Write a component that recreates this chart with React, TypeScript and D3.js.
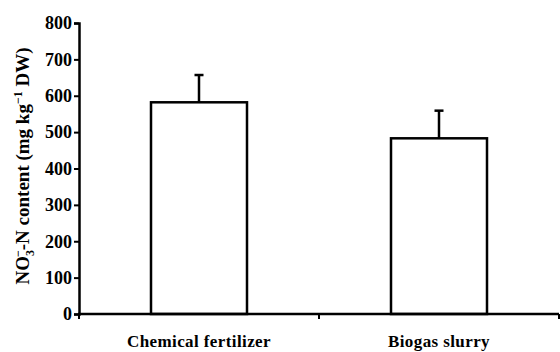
import React, { useRef, useEffect } from "react";
import * as d3 from "d3";

const width = 560;
const height = 352;

const categories = ["Chemical fertilizer", "Biogas slurry"];
const means = [582, 483];
const errors = [75, 76];
const yTicks = [0, 100, 200, 300, 400, 500, 600, 700, 800];

const font = "Liberation Serif, Times New Roman, serif";

function App() {
  const svgRef = useRef<SVGSVGElement>(null);

  useEffect(() => {
    const svg = d3.select(svgRef.current);
    svg.selectAll("*").remove();

    const x0 = 79;
    const x1 = 559;
    const yTop = 23;
    const yBottom = 314;

    // scales
    const xScale = d3
      .scaleBand<string>()
      .domain(categories)
      .range([x0, x1])
      .paddingInner(0.6)
      .paddingOuter(0.3);
    const yScale = d3.scaleLinear().domain([0, 800]).range([yBottom, yTop]);

    // bars
    svg
      .selectAll(".bar")
      .data(categories)
      .join("rect")
      .attr("class", "bar")
      .attr("x", (d) => xScale(d)!)
      .attr("y", (d, i) => yScale(means[i]))
      .attr("width", xScale.bandwidth())
      .attr("height", (d, i) => yBottom - yScale(means[i]))
      .attr("fill", "#fff")
      .attr("stroke", "#000")
      .attr("stroke-width", 2.5);

    // error bars (upper only)
    const cx = (d: string) => xScale(d)! + xScale.bandwidth() / 2;
    svg
      .selectAll(".err")
      .data(categories)
      .join("line")
      .attr("class", "err")
      .attr("x1", cx)
      .attr("x2", cx)
      .attr("y1", (d, i) => yScale(means[i]))
      .attr("y2", (d, i) => yScale(means[i] + errors[i]))
      .attr("stroke", "#000")
      .attr("stroke-width", 2.5);
    svg
      .selectAll(".cap")
      .data(categories)
      .join("line")
      .attr("class", "cap")
      .attr("x1", (d) => cx(d) - 4.5)
      .attr("x2", (d) => cx(d) + 4.5)
      .attr("y1", (d, i) => yScale(means[i] + errors[i]))
      .attr("y2", (d, i) => yScale(means[i] + errors[i]))
      .attr("stroke", "#000")
      .attr("stroke-width", 2.5);

    // y axis
    const yAxis = d3
      .axisLeft(yScale)
      .tickValues(yTicks)
      .tickSize(5)
      .tickPadding(2)
      .tickFormat(d3.format("d"));
    const gy = svg
      .append("g")
      .attr("transform", `translate(${x0},0)`)
      .call(yAxis)
      .attr("font-family", null)
      .attr("font-size", null);
    gy.select(".domain").attr("stroke-width", 2.5);
    gy.selectAll(".tick line").attr("stroke-width", 2);
    gy.selectAll(".tick text")
      .style("font-family", font)
      .style("font-weight", "bold")
      .style("font-size", "18px")
      .attr("fill", "#000");

    // x axis: ticks at category boundaries
    svg
      .append("line")
      .attr("x1", x0 - 1)
      .attr("x2", x1)
      .attr("y1", yBottom)
      .attr("y2", yBottom)
      .attr("stroke", "#000")
      .attr("stroke-width", 2.5);
    const step = xScale.step();
    const bounds = [x0, x0 + step, x1];
    svg
      .selectAll(".xtick")
      .data(bounds)
      .join("line")
      .attr("class", "xtick")
      .attr("x1", (d) => d)
      .attr("x2", (d) => d)
      .attr("y1", yBottom)
      .attr("y2", yBottom + 5)
      .attr("stroke", "#000")
      .attr("stroke-width", 2);

    svg
      .selectAll(".xlabel")
      .data(categories)
      .join("text")
      .attr("class", "xlabel")
      .attr("x", cx)
      .attr("y", 347)
      .attr("text-anchor", "middle")
      .style("font-family", font)
      .style("font-weight", "bold")
      .style("font-size", "17px")
      .style("letter-spacing", "0.4px")
      .text((d) => d);

    // y label
    const yl = svg
      .append("text")
      .attr("transform", `translate(29,166) rotate(-90)`)
      .attr("text-anchor", "middle")
      .style("font-family", font)
      .style("font-weight", "bold")
      .style("font-size", "19px");
    yl.append("tspan").text("NO");
    yl.append("tspan").style("font-size", "12px").attr("dy", 5).text("3");
    yl.append("tspan").style("font-size", "12px").attr("dx", -7).attr("dy", -12).text("−");
    yl.append("tspan").attr("dy", 7).text("-N content (mg kg");
    yl.append("tspan").style("font-size", "12px").attr("dy", -7).text("−1");
    yl.append("tspan").attr("dy", 7).text(" DW)");
  }, []);

  return (
    <svg
      ref={svgRef}
      width={width}
      height={height}
      style={{ position: "absolute", left: 0, top: 0, background: "#fff" }}
    />
  );
}

export default App;
